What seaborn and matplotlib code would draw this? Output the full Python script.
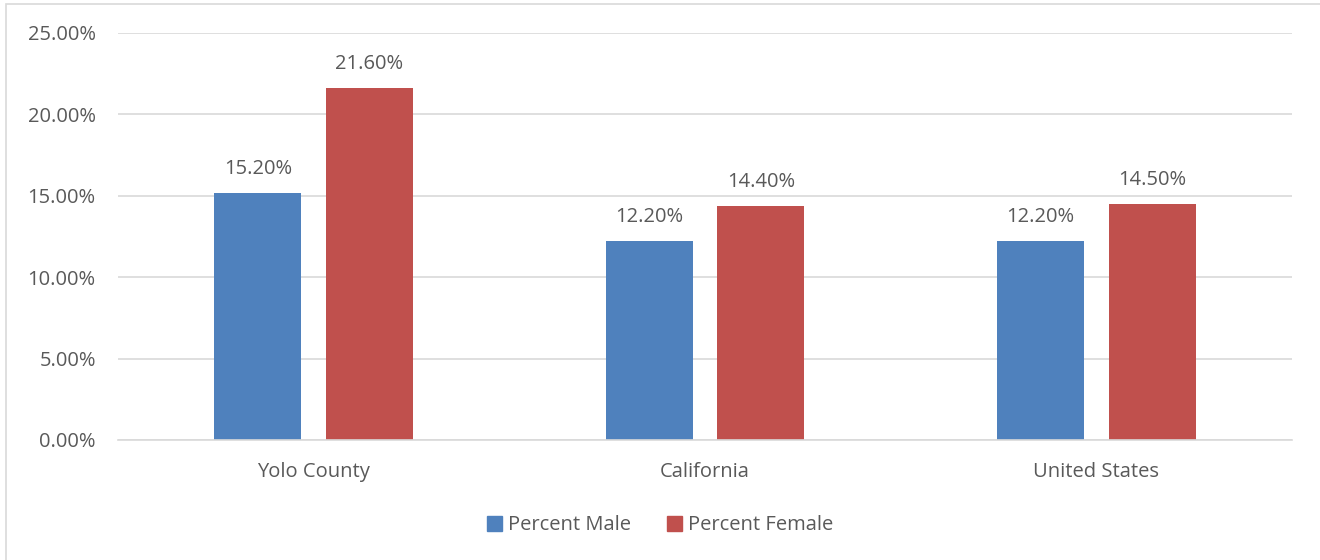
import matplotlib
matplotlib.use("Agg")

import matplotlib.pyplot as plt
import matplotlib.patches as mpatches
import seaborn as sns
import pandas as pd

regions = ["Yolo County", "California", "United States"]
percent_male = [15.2, 12.2, 12.2]
percent_female = [21.6, 14.4, 14.5]
series_names = ["Percent Male", "Percent Female"]
colors = ["#4F81BD", "#C0504D"]
y_ticks = [0, 5, 10, 15, 20, 25]

df = pd.DataFrame({
    "region": regions * 2,
    "series": [series_names[0]] * 3 + [series_names[1]] * 3,
    "value": percent_male + percent_female,
})

sns.set_style("white")
plt.rcParams["font.family"] = ["Open Sans", "DejaVu Sans"]
text_color = "#595959"
fs = 14.5

fig = plt.figure(figsize=(13.2, 5.6), dpi=100)
ax = fig.add_axes([0.0894, 0.2143, 0.8894, 0.7268])

sns.barplot(data=df, x="region", y="value", hue="series", palette=colors,
            width=0.57, gap=0.22, saturation=1, legend=False, linewidth=0,
            ax=ax)

for cont in ax.containers:
    ax.bar_label(cont, labels=[f"{v:.2f}%" for v in cont.datavalues],
                 padding=10, fontsize=fs, color=text_color)

ax.set_ylim(0, 25)
ax.set_xlim(-0.5, 2.5)
ax.set_yticks(y_ticks)
ax.set_yticklabels([f"{t:.2f}%" for t in y_ticks])
ax.yaxis.grid(True, color="#D9D9D9", linewidth=1.2)
ax.set_axisbelow(True)
for s in ["top", "right", "left"]:
    ax.spines[s].set_visible(False)
ax.spines["bottom"].set_color("#D9D9D9")
ax.spines["bottom"].set_linewidth(1.2)
ax.tick_params(axis="both", length=0, labelsize=fs, colors=text_color)
ax.tick_params(axis="y", pad=16)
ax.tick_params(axis="x", pad=16)
ax.set_xlabel("")
ax.set_ylabel("")

handles = [mpatches.Patch(color=c, label=n) for c, n in zip(colors, series_names)]
leg = fig.legend(handles=handles, loc="center", bbox_to_anchor=(0.5, 0.062),
                 ncol=2, frameon=False, fontsize=fs, handlelength=0.75,
                 handleheight=0.75, handletextpad=0.3, columnspacing=1.8)
for t in leg.get_texts():
    t.set_color(text_color)

# outer chart border
fig.patches.append(mpatches.Rectangle((0.0045, -0.01), 1.1, 1.003,
                                      transform=fig.transFigure, fill=False,
                                      edgecolor="#D9D9D9", linewidth=1.2))

fig.savefig("out.png", dpi=100)
